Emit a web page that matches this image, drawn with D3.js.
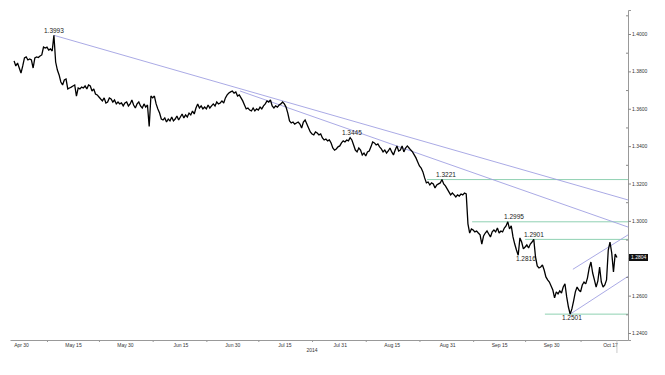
<!DOCTYPE html>
<html>
<head>
<meta charset="utf-8">
<script src="https://cdn.jsdelivr.net/npm/d3@7"></script>
<style>
body { margin: 0; background: #fff; }
svg { display: block; font-family: "Liberation Sans", Arial, sans-serif; }
</style>
</head>
<body>
<svg width="665" height="375"></svg>
<script>
// EUR/USD, 12-hourly closes from Apr 28 2014
var startDate = new Date(2014, 3, 28, 0);
var stepHours = 12;
var prices = [
	1.3856, 1.3829, 1.3845, 1.3818, 1.3791, 1.3829, 1.3872, 1.3877, 1.3861, 1.3866,
	1.3861, 1.3818, 1.3872, 1.3877, 1.3874, 1.3882, 1.3888, 1.3930, 1.3925, 1.3930,
	1.3914, 1.3920, 1.3909, 1.3993, 1.3850, 1.3807, 1.3781, 1.3743, 1.3727, 1.3754,
	1.3759, 1.3706, 1.3711, 1.3716, 1.3722, 1.3727, 1.3668, 1.3711, 1.3706, 1.3716,
	1.3711, 1.3722, 1.3706, 1.3727, 1.3722, 1.3695, 1.3706, 1.3679, 1.3674, 1.3663,
	1.3652, 1.3642, 1.3658, 1.3631, 1.3636, 1.3658, 1.3652, 1.3636, 1.3647, 1.3626,
	1.3636, 1.3626, 1.3631, 1.3615, 1.3631, 1.3636, 1.3615, 1.3626, 1.3647, 1.3620,
	1.3604, 1.3626, 1.3636, 1.3615, 1.3604, 1.3626, 1.3609, 1.3620, 1.3505, 1.3668,
	1.3658, 1.3668, 1.3626, 1.3599, 1.3577, 1.3545, 1.3540, 1.3551, 1.3529, 1.3545,
	1.3535, 1.3556, 1.3535, 1.3545, 1.3561, 1.3540, 1.3556, 1.3572, 1.3551, 1.3567,
	1.3556, 1.3577, 1.3567, 1.3588, 1.3572, 1.3604, 1.3626, 1.3604, 1.3615, 1.3599,
	1.3609, 1.3599, 1.3620, 1.3604, 1.3615, 1.3626, 1.3615, 1.3636, 1.3626, 1.3631,
	1.3642, 1.3631, 1.3658, 1.3674, 1.3684, 1.3690, 1.3695, 1.3684, 1.3690, 1.3668,
	1.3674, 1.3658, 1.3642, 1.3620, 1.3599, 1.3604, 1.3593, 1.3588, 1.3604, 1.3588,
	1.3599, 1.3593, 1.3609, 1.3599, 1.3615, 1.3626, 1.3642, 1.3636, 1.3647, 1.3615,
	1.3604, 1.3615, 1.3609, 1.3620, 1.3626, 1.3636, 1.3626, 1.3609, 1.3577, 1.3535,
	1.3524, 1.3529, 1.3518, 1.3524, 1.3529, 1.3518, 1.3497, 1.3529, 1.3540, 1.3518,
	1.3497, 1.3476, 1.3465, 1.3460, 1.3476, 1.3470, 1.3460, 1.3465, 1.3444, 1.3433,
	1.3438, 1.3428, 1.3433, 1.3417, 1.3390, 1.3379, 1.3385, 1.3396, 1.3401, 1.3417,
	1.3428, 1.3422, 1.3433, 1.3428, 1.3445, 1.3433, 1.3406, 1.3379, 1.3369, 1.3390,
	1.3379, 1.3353, 1.3363, 1.3347, 1.3369, 1.3374, 1.3396, 1.3422, 1.3417, 1.3406,
	1.3412, 1.3396, 1.3385, 1.3369, 1.3379, 1.3363, 1.3374, 1.3390, 1.3369, 1.3353,
	1.3379, 1.3401, 1.3374, 1.3379, 1.3401, 1.3369, 1.3390, 1.3401, 1.3390, 1.3379,
	1.3369, 1.3353, 1.3337, 1.3315, 1.3294, 1.3283, 1.3262, 1.3230, 1.3203, 1.3208,
	1.3192, 1.3203, 1.3198, 1.3176, 1.3192, 1.3198, 1.3203, 1.3221, 1.3198, 1.3187,
	1.3171, 1.3155, 1.3139, 1.3149, 1.3139, 1.3128, 1.3139, 1.3133, 1.3144, 1.3139,
	1.3149, 1.3144, 1.2984, 1.2935, 1.2957, 1.2951, 1.2941, 1.2946, 1.2935, 1.2925,
	1.2876, 1.2919, 1.2935, 1.2946, 1.2930, 1.2914, 1.2941, 1.2951, 1.2941, 1.2962,
	1.2935, 1.2946, 1.2941, 1.2962, 1.2973, 1.2995, 1.2957, 1.2973, 1.2914, 1.2876,
	1.2844, 1.2816, 1.2909, 1.2887, 1.2850, 1.2860, 1.2871, 1.2855, 1.2876, 1.2887,
	1.2901, 1.2807, 1.2759, 1.2748, 1.2753, 1.2764, 1.2737, 1.2700, 1.2684, 1.2673,
	1.2652, 1.2630, 1.2588, 1.2620, 1.2609, 1.2625, 1.2614, 1.2646, 1.2663, 1.2593,
	1.2539, 1.2501, 1.2529, 1.2572, 1.2620, 1.2646, 1.2630, 1.2620, 1.2657, 1.2673,
	1.2663, 1.2695, 1.2748, 1.2780, 1.2721, 1.2684, 1.2646, 1.2679, 1.2753, 1.2673,
	1.2646, 1.2657, 1.2684, 1.2844, 1.2886, 1.2828, 1.2727, 1.2823, 1.2804
];

var xTickDates = ['2014-04-30', '2014-05-15', '2014-05-30', '2014-06-15', '2014-06-30', '2014-07-15',
	'2014-07-31', '2014-08-15', '2014-08-31', '2014-09-15', '2014-09-30', '2014-10-17'];
var xTickLabels = ['Apr 30', 'May 15', 'May 30', 'Jun 15', 'Jun 30', 'Jul 15',
	'Jul 31', 'Aug 15', 'Aug 31', 'Sep 15', 'Sep 30', 'Oct 17'];
var yearLabel = '2014';
var yTicks = [1.24, 1.26, 1.28, 1.30, 1.32, 1.34, 1.36, 1.38, 1.40];
var yMinorTicks = [1.25, 1.27, 1.29, 1.31, 1.33, 1.35, 1.37, 1.39, 1.41];

// horizontal support / resistance levels
var levelPrices = [1.3221, 1.2995, 1.2901, 1.2501];
var levelStarts = ['2014-08-25 05', '2014-09-07 05', '2014-09-22 12', '2014-09-28 05'];

// trend lines: start point, price where they meet the right axis
var trendStartDates = ['2014-05-09 12', '2014-07-02 05', '2014-10-05 12', '2014-10-06 07'];
var trendStartPrices = [1.3993, 1.3695, 1.2501, 1.2741];
var trendEndPrices = [1.3112, 1.2967, 1.2703, 1.2925];

// price notes
var noteValues = [1.3993, 1.3445, 1.3221, 1.2995, 1.2901, 1.2816, 1.2501];
var noteDates = ['2014-05-09 12', '2014-08-03 12', '2014-08-30 16', '2014-09-19 07',
	'2014-09-25 01', '2014-09-22 17', '2014-10-06 00'];
var noteBelow = [false, false, false, false, false, true, true];

var svg = d3.select('svg');
var parseDay = d3.timeParse('%Y-%m-%d');
var parseHour = d3.timeParse('%Y-%m-%d %H');
var fmt4 = d3.format('.4f');

var series = prices.map(function (p, i) {
	return { date: d3.timeHour.offset(startDate, i * stepHours), value: p };
});

var x = d3.scaleTime()
	.domain([parseDay(xTickDates[0]), parseDay(xTickDates[xTickDates.length - 1])])
	.range([21, 610]);
x.domain([x.invert(10), x.invert(628)]).range([10, 628]);

var y = d3.scaleLinear().domain([1.24, 1.40]).range([333, 34]);
y.domain([y.invert(340), y.invert(10)]).range([340, 10]);

var right = x.range()[1];

// levels
svg.append('g')
	.selectAll('line')
	.data(levelPrices)
	.enter()
	.append('line')
	.attr('x1', function (d, i) { return x(parseHour(levelStarts[i])); })
	.attr('x2', right)
	.attr('y1', function (d) { return y(d); })
	.attr('y2', function (d) { return y(d); })
	.style('stroke', '#8fd1b2')
	.style('stroke-width', 1);

// trend lines
svg.append('g')
	.selectAll('line')
	.data(trendEndPrices)
	.enter()
	.append('line')
	.attr('x1', function (d, i) { return x(parseHour(trendStartDates[i])); })
	.attr('y1', function (d, i) { return y(trendStartPrices[i]); })
	.attr('x2', right)
	.attr('y2', function (d) { return y(d); })
	.style('stroke', '#a0a0e2')
	.style('stroke-width', 0.9);

// price line
var line = d3.line()
	.x(function (d) { return x(d.date); })
	.y(function (d) { return y(d.value); });

svg.append('path')
	.datum(series)
	.attr('d', line)
	.style('fill', 'none')
	.style('stroke', '#000')
	.style('stroke-width', 1.3)
	.style('stroke-linejoin', 'miter')
	.style('stroke-miterlimit', 2);

// notes
svg.append('g')
	.selectAll('text')
	.data(noteValues)
	.enter()
	.append('text')
	.attr('x', function (d, i) { return x(parseHour(noteDates[i])); })
	.attr('y', function (d, i) { return y(d) + (noteBelow[i] ? 5.8 : -2.5); })
	.attr('text-anchor', 'middle')
	.style('font-size', '6.5px')
	.style('fill', '#1a1a1a')
	.text(function (d) { return fmt4(d); });

// y axis on the right
var yAxis = d3.axisRight(y).tickValues(yTicks).tickFormat(fmt4).tickSize(3).tickPadding(1);
var gy = svg.append('g').attr('transform', 'translate(' + right + ',0)').call(yAxis);
gy.selectAll('text').style('font-size', '5px').style('fill', '#333');
gy.selectAll('line').style('stroke', '#888');
gy.select('.domain').style('stroke', '#999');

var gyMinor = svg.append('g')
	.attr('transform', 'translate(' + right + ',0)')
	.call(d3.axisLeft(y).tickValues(yMinorTicks).tickFormat('').tickSize(2));
gyMinor.select('.domain').remove();
gyMinor.selectAll('line').style('stroke', '#888');

// x axis
var xDates = xTickDates.map(parseDay);
var xAxis = d3.axisBottom(x).tickValues(xDates).tickSize(0).tickPadding(3)
	.tickFormat(function (d, i) { return xTickLabels[i]; });
var gx = svg.append('g').attr('transform', 'translate(0,340)').call(xAxis);
gx.selectAll('text').style('font-size', '5px').style('fill', '#333');
gx.select('.domain').style('stroke', '#999');

var xMid = d3.pairs(xDates).map(function (p) {
	return new Date((p[0].getTime() + p[1].getTime()) / 2);
});
var gxMinor = svg.append('g').attr('transform', 'translate(0,340)')
	.call(d3.axisBottom(x).tickValues(xMid).tickFormat('').tickSize(2));
gxMinor.select('.domain').remove();
gxMinor.selectAll('line').style('stroke', '#999');

svg.append('text')
	.attr('x', x(d3.mean([xDates[5], xDates[6]])))
	.attr('y', 351.5)
	.attr('text-anchor', 'middle')
	.style('font-size', '5px')
	.style('fill', '#333')
	.text(yearLabel);

// last price marker
var last = series[series.length - 1];
svg.append('line')
	.attr('x1', x(last.date)).attr('x2', x(last.date))
	.attr('y1', 340).attr('y2', 353)
	.style('stroke', '#bbb')
	.style('stroke-width', 0.8);

var tag = svg.append('g').attr('transform', 'translate(' + (right + 1) + ',' + y(last.value) + ')');
tag.append('rect')
	.attr('x', 0).attr('y', -3.5)
	.attr('width', 19).attr('height', 7)
	.style('fill', '#111');
tag.append('text')
	.attr('x', 2).attr('y', 1.8)
	.style('font-size', '5px')
	.style('fill', '#fff')
	.text(fmt4(last.value));
</script>
</body>
</html>
